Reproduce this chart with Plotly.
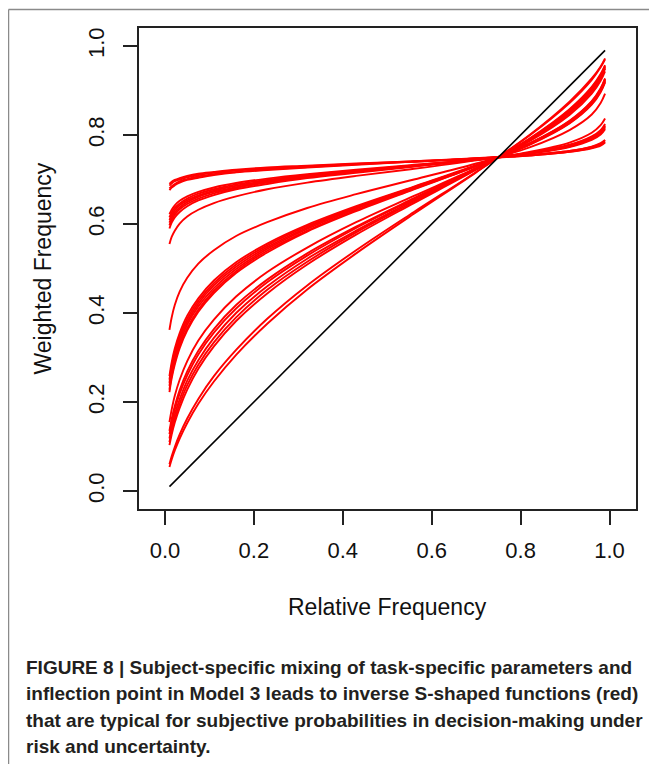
import plotly.graph_objects as go

# Sample positions on the relative-frequency axis
rel_freq = [0.01, 0.015, 0.022, 0.033, 0.05, 0.075, 0.11, 0.16, 0.23, 0.32,
            0.43, 0.56, 0.70, 0.82, 0.91, 0.96, 0.98, 0.99]

# Weighted frequency curves (red), grouped by band
band_top = [
    [.690, .695, .699, .703, .708, .713, .717, .722, .727, .731, .736, .741, .748, .754, .762, .770, .776, .783],
    [.686, .691, .696, .700, .705, .710, .715, .720, .725, .730, .735, .741, .747, .754, .762, .771, .778, .785],
    [.680, .685, .690, .696, .701, .707, .712, .717, .723, .728, .734, .740, .747, .755, .764, .773, .780, .788],
    [.676, .682, .687, .693, .699, .704, .710, .716, .721, .727, .733, .740, .747, .755, .764, .774, .782, .789],
]
band_upper = [
    [.622, .632, .642, .652, .662, .672, .682, .692, .702, .712, .722, .733, .745, .758, .773, .789, .801, .813],
    [.615, .626, .636, .646, .657, .668, .678, .689, .699, .710, .720, .732, .745, .759, .774, .791, .803, .815],
    [.609, .620, .631, .642, .653, .664, .675, .686, .697, .708, .719, .731, .745, .759, .775, .792, .805, .818],
    [.603, .615, .626, .637, .649, .661, .672, .683, .695, .706, .718, .730, .744, .759, .776, .794, .807, .820],
    [.597, .609, .621, .633, .645, .657, .669, .681, .693, .705, .717, .730, .744, .760, .777, .795, .809, .822],
    [.590, .603, .615, .627, .640, .653, .665, .678, .690, .703, .715, .729, .744, .760, .778, .797, .811, .825],
]
curve_single_a = [.555, .571, .585, .601, .617, .632, .647, .662, .678, .693, .708, .724, .743, .762, .783, .805, .822, .837]
curve_single_b = [.362, .390, .418, .448, .479, .511, .541, .573, .604, .636, .667, .700, .736, .772, .811, .846, .872, .893]
band_middle = [
    [.258, .289, .320, .355, .394, .433, .473, .514, .556, .598, .640, .684, .732, .778, .826, .868, .896, .918],
    [.250, .281, .312, .348, .387, .427, .467, .509, .552, .595, .638, .683, .731, .779, .827, .870, .898, .920],
    [.243, .274, .305, .341, .380, .421, .462, .504, .548, .592, .636, .682, .731, .779, .829, .872, .900, .922],
    [.236, .267, .298, .334, .374, .415, .456, .499, .544, .589, .634, .681, .731, .780, .830, .873, .901, .924],
    [.228, .259, .290, .327, .366, .408, .450, .494, .540, .585, .631, .679, .730, .781, .831, .875, .903, .926],
    [.222, .253, .284, .321, .361, .403, .445, .490, .536, .583, .629, .678, .730, .781, .832, .876, .905, .927],
]
band_lower = [
    [.155, .183, .214, .250, .292, .338, .385, .437, .492, .547, .604, .663, .726, .786, .845, .893, .922, .943],
    [.135, .162, .191, .227, .269, .315, .364, .418, .475, .534, .594, .658, .725, .788, .849, .898, .927, .949],
    [.128, .154, .183, .219, .260, .307, .356, .410, .469, .529, .591, .656, .724, .789, .851, .900, .929, .950],
    [.118, .143, .172, .206, .248, .294, .344, .400, .460, .522, .585, .653, .723, .790, .853, .903, .932, .953],
    [.110, .135, .162, .196, .238, .284, .334, .390, .452, .515, .581, .650, .723, .791, .856, .906, .935, .955],
    [.103, .127, .154, .187, .228, .275, .325, .382, .444, .509, .576, .647, .722, .792, .858, .908, .937, .957],
]
band_bottom = [
    [.060, .078, .099, .127, .163, .207, .258, .317, .387, .462, .541, .627, .717, .799, .872, .924, .952, .970],
    [.054, .071, .091, .118, .153, .196, .246, .306, .376, .453, .534, .623, .716, .800, .875, .927, .954, .972],
]

# Identity line (black)
diag_x = [0.01, 0.99]
diag_y = [0.01, 0.99]

tick_vals = [0.0, 0.2, 0.4, 0.6, 0.8, 1.0]
tick_text = ["0.0", "0.2", "0.4", "0.6", "0.8", "1.0"]

caption_lines = [
    "FIGURE 8 | Subject-specific mixing of task-specific parameters and",
    "inflection point in Model 3 leads to inverse S-shaped functions (red)",
    "that are typical for subjective probabilities in decision-making under",
    "risk and uncertainty.",
]

# The page body has an 8px default margin, so the figure is offset by 8px.
OFF = 8
W, H = 657 - OFF, 764 - OFF
L, R, T, B = 139 - OFF, 636 - OFF, 28 - OFF, 509 - OFF

fig = go.Figure()
all_curves = band_top + band_upper + [curve_single_a, curve_single_b] + band_middle + band_lower + band_bottom
for ys in all_curves:
    fig.add_trace(go.Scatter(x=rel_freq, y=ys, mode="lines",
                             line=dict(color="#ff0000", width=1.9, shape="spline"),
                             hoverinfo="skip", showlegend=False))
fig.add_trace(go.Scatter(x=diag_x, y=diag_y, mode="lines",
                         line=dict(color="#000000", width=1.6),
                         hoverinfo="skip", showlegend=False))

font_main = "Liberation Sans, Arial, sans-serif"
axis_common = dict(showgrid=False, zeroline=False, showline=True, mirror=True,
                   linecolor="#222222", linewidth=1.5, ticks="outside", ticklen=14,
                   tickwidth=1.5, tickcolor="#222222",
                   tickvals=tick_vals, ticktext=tick_text,
                   tickfont=dict(family=font_main, size=22, color="#111111"))
fig.update_xaxes(range=[-0.0585, 1.0596], ticklabelstandoff=7, **axis_common)
fig.update_yaxes(range=[-0.0404, 1.0404], tickangle=-90, ticklabelstandoff=10, **axis_common)

def px_x(p):
    # p is a window pixel x
    return (p - OFF - L) / (R - L)

def px_y(p):
    # p is a window pixel y
    return (B - (p - OFF)) / (B - T)

annotations = [
    dict(x=0.5, y=px_y(607), xref="paper", yref="paper", text="Relative Frequency",
         showarrow=False, xanchor="center", yanchor="middle",
         font=dict(family=font_main, size=23, color="#111111")),
    dict(x=px_x(42), y=0.5, xref="paper", yref="paper", text="Weighted Frequency",
         showarrow=False, xanchor="center", yanchor="middle", textangle=-90,
         font=dict(family=font_main, size=23, color="#111111")),
]
for line, yc in zip(caption_lines, [667, 693, 720, 746]):
    annotations.append(dict(x=px_x(24), y=px_y(yc), xref="paper", yref="paper", text="<b>" + line + "</b>",
                            showarrow=False, xanchor="left", yanchor="middle",
                            font=dict(family=font_main, size=19, color="#231f20")))

shapes = [
    dict(type="line", xref="paper", yref="paper", x0=px_x(8.5), x1=px_x(670), y0=px_y(9.5), y1=px_y(9.5),
         line=dict(color="#8a8a8a", width=1.5)),
    dict(type="line", xref="paper", yref="paper", x0=px_x(8.5), x1=px_x(8.5), y0=px_y(9.5), y1=px_y(780),
         line=dict(color="#8a8a8a", width=1.5)),
]

fig.update_layout(width=W, height=H, margin=dict(l=L, r=W - R, t=T, b=H - B),
                  paper_bgcolor="white", plot_bgcolor="white",
                  annotations=annotations, shapes=shapes, showlegend=False)
fig.write_html("out.html", config={"displayModeBar": False})
